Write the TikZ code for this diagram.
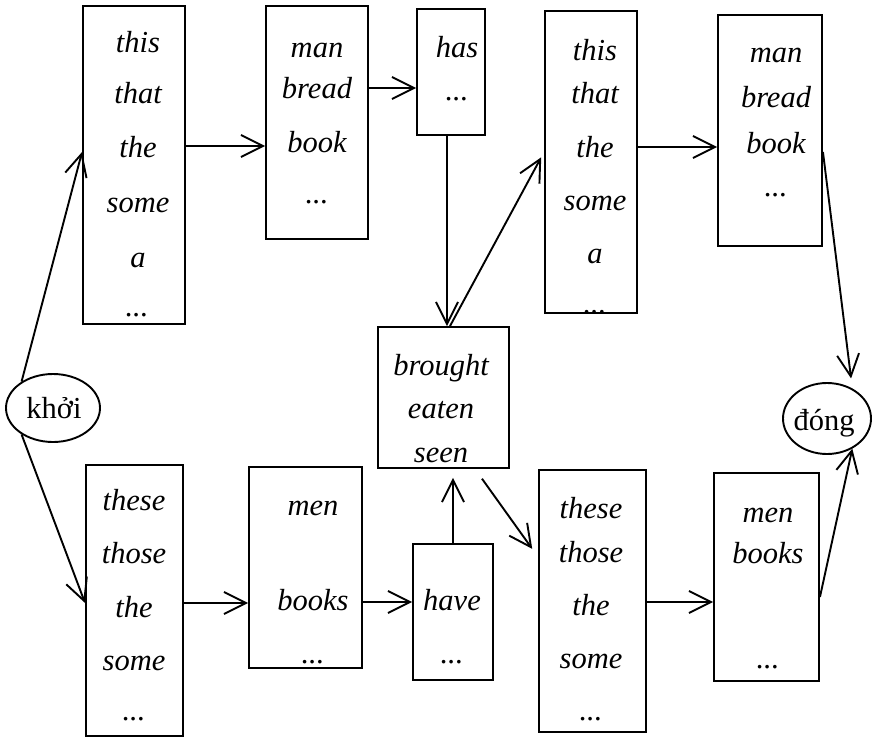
\documentclass[tikz,border=0pt]{standalone}
\usepackage{fontspec}
\setmainfont{Liberation Serif}
\usetikzlibrary{arrows.meta,shapes.geometric,calc}
\begin{document}
\begin{tikzpicture}[x=1pt,y=-1pt,
  box/.style={draw, line width=1.9pt, rectangle, inner sep=0pt},
  wd/.style={font=\fontsize{30.5}{36}\selectfont\itshape, inner sep=0pt, anchor=mid, yshift=-8pt},
  dts/.style={font=\fontsize{30.5}{36}\selectfont\itshape, inner sep=0pt, anchor=base},
  circ/.style={draw, ellipse, line width=1.9pt, inner sep=0pt},
  ctxt/.style={inner sep=0pt, anchor=mid, yshift=-8pt, font=\fontsize{30.5}{36}\selectfont},
  arr/.style={line width=1.9pt, -{Straight Barb[length=22pt,width=22pt]}}]
\fill[white] (0,0) rectangle (877,741);
\useasboundingbox (0,0) rectangle (877,741);
% boxes
\node[box, minimum width=102pt, minimum height=318pt] (A) at (134,165) {};
\node[box, minimum width=102pt, minimum height=233pt] (B) at (317,122.5) {};
\node[box, minimum width=68pt, minimum height=126pt] (hasb) at (451,72) {};
\node[box, minimum width=92pt, minimum height=302pt] (C) at (591,162) {};
\node[box, minimum width=104pt, minimum height=231pt] (D) at (770,130.5) {};
\node[box, minimum width=131pt, minimum height=141pt] (br) at (443.5,397.5) {};
\node[box, minimum width=97pt, minimum height=271pt] (E) at (134.5,600.5) {};
\node[box, minimum width=113pt, minimum height=201pt] (F) at (305.5,567.5) {};
\node[box, minimum width=80pt, minimum height=136pt] (have) at (453,612) {};
\node[box, minimum width=107pt, minimum height=262pt] (G) at (592.5,601) {};
\node[box, minimum width=105pt, minimum height=208pt] (H) at (766.5,577) {};
\node[circ, minimum width=94pt, minimum height=68pt] (k) at (53,408) {};
\node[circ, minimum width=88pt, minimum height=71pt] (d) at (827,418.5) {};
% texts
\node[ctxt] (kt) at (54,408) {khởi};
\node[ctxt] (dt) at (824,420) {đóng};
\node[wd] (a1) at (138,42) {this};
\node[wd] (a2) at (138,93) {that};
\node[wd] (a3) at (138,147) {the};
\node[wd] (a4) at (138,202) {some};
\node[wd] (a5) at (138,257) {a};
\node[dts] (a6) at (137,316) {...};
\node[wd] (b1) at (317,47) {man};
\node[wd] (b2) at (317,88) {bread};
\node[wd] (b3) at (317,142) {book};
\node[dts] (b4) at (317,203) {...};
\node[wd] (h1) at (457,47) {has};
\node[dts] (h2) at (457,100) {...};
\node[wd] (c1) at (595,50) {this};
\node[wd] (c2) at (595,93) {that};
\node[wd] (c3) at (595,147) {the};
\node[wd] (c4) at (595,200) {some};
\node[wd] (c5) at (595,253) {a};
\node[dts] (c6) at (595,313) {...};
\node[wd] (d1) at (776,52) {man};
\node[wd] (d2) at (776,97) {bread};
\node[wd] (d3) at (776,143) {book};
\node[dts] (d4) at (776,196) {...};
\node[wd] (r1) at (441,365) {brought};
\node[wd] (r2) at (441,408) {eaten};
\node[wd] (r3) at (441,452) {seen};
\node[wd] (e1) at (134,500) {these};
\node[wd] (e2) at (134,553) {those};
\node[wd] (e3) at (134,607) {the};
\node[wd] (e4) at (134,660) {some};
\node[dts] (e5) at (134,720) {...};
\node[wd] (f1) at (313,505) {men};
\node[wd] (f2) at (313,600) {books};
\node[dts] (f3) at (313,663) {...};
\node[wd] (v1) at (452,600) {have};
\node[dts] (v2) at (452,663) {...};
\node[wd] (g1) at (591,508) {these};
\node[wd] (g2) at (591,552) {those};
\node[wd] (g3) at (591,605) {the};
\node[wd] (g4) at (591,658) {some};
\node[dts] (g5) at (591,720) {...};
\node[wd] (m1) at (768,512) {men};
\node[wd] (m2) at (768,553) {books};
\node[dts] (m3) at (768,668) {...};
% connectors
\draw[arr] (k.140) -- (A.west |- 0,152);
\draw[arr] (k.220) -- (E.west |- 0,603);
\draw[arr] (A.east |- 0,146) -- (B.west |- 0,146);
\draw[arr] (B.east |- 0,88) -- (hasb.west |- 0,88);
\draw[arr] (hasb.south -| 447,0) -- (br.north -| 447,0);
\draw[arr, shorten >=6pt] (br.north -| 450,0) -- (C.west |- 0,152);
\draw[arr] (C.east |- 0,147) -- (D.west |- 0,147);
\draw[arr, shorten >=10pt] (D.east |- 0,152) -- (d.50);
\draw[arr] (H.east |- 0,597) -- (d.-50);
\draw[arr] (E.east |- 0,603) -- (F.west |- 0,603);
\draw[arr] (F.east |- 0,602) -- (have.west |- 0,602);
\draw[arr, shorten >=9pt] (have.north) -- (br.south -| have.north);
\draw[arr, shorten <=12pt, shorten >=10pt] (br.south -| 475,0) -- (G.west |- 0,557);
\draw[arr] (G.east |- 0,602) -- (H.west |- 0,602);
\end{tikzpicture}
\end{document}
